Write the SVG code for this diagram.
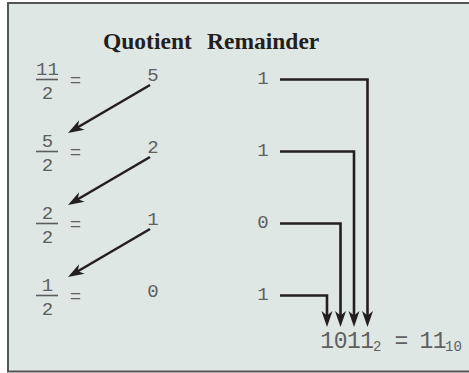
<svg xmlns="http://www.w3.org/2000/svg" width="469" height="373" viewBox="0 0 469 373">
<style>
.t{font-family:"Liberation Serif","Times New Roman",serif;font-weight:bold;font-size:23.5px;fill:#231f20}
.m{font-family:"Liberation Mono","Courier New",monospace;font-size:19px;fill:#606060}
.c{text-anchor:middle}
.r{font-family:"Liberation Mono","Courier New",monospace;font-size:23px;letter-spacing:-0.45px;fill:#606060}
.s{font-family:"Liberation Mono","Courier New",monospace;font-size:14px;fill:#606060}
.fl{stroke:#5c5c5c;stroke-width:1.6;fill:none}
.cn{stroke:#231f20;stroke-width:2.6;fill:none;marker-end:url(#ah)}
</style>
<defs>
<marker id="ah" markerUnits="userSpaceOnUse" markerWidth="20" markerHeight="12" viewBox="-1 -6 20 12" refX="11" refY="0" orient="auto" overflow="visible">
<path d="M0,-5.5 L16,0 L0,5.5 L4.5,0 z" fill="#231f20"/>
</marker>
</defs>
<rect x="8" y="3" width="470" height="368.5" fill="#dfe7e5" stroke="#555" stroke-width="2"/>
<g id="title">
<text class="t" x="103" y="48.5">Quotient</text>
<text class="t" x="207" y="48.5">Remainder</text>
</g>
<g id="row1">
<text class="m c" x="47.5" y="75">11</text>
<line class="fl" x1="36" y1="79.5" x2="58" y2="79.5"/>
<text class="m c" x="47.5" y="98.5">2</text>
<text class="m c" x="75.5" y="85.5">=</text>
<text class="m c" x="153" y="80.5">5</text>
<text class="m c" x="263" y="84">1</text>
</g>
<g id="row2">
<text class="m c" x="47.5" y="147">5</text>
<line class="fl" x1="36" y1="151.5" x2="58" y2="151.5"/>
<text class="m c" x="47.5" y="170.5">2</text>
<text class="m c" x="75.5" y="157.5">=</text>
<text class="m c" x="153" y="152.5">2</text>
<text class="m c" x="263" y="156">1</text>
</g>
<g id="row3">
<text class="m c" x="47.5" y="219">2</text>
<line class="fl" x1="36" y1="223.5" x2="58" y2="223.5"/>
<text class="m c" x="47.5" y="242.5">2</text>
<text class="m c" x="75.5" y="229.5">=</text>
<text class="m c" x="153" y="224.5">1</text>
<text class="m c" x="263" y="228">0</text>
</g>
<g id="row4">
<text class="m c" x="47.5" y="291">1</text>
<line class="fl" x1="36" y1="295.5" x2="58" y2="295.5"/>
<text class="m c" x="47.5" y="314.5">2</text>
<text class="m c" x="75.5" y="301.5">=</text>
<text class="m c" x="153" y="296.5">0</text>
<text class="m c" x="263" y="300">1</text>
</g>
<g id="result">
<text class="r" x="320.3" y="348">1011</text>
<text class="s" x="373" y="350.5">2</text>
<text class="r" x="394.5" y="348">=</text>
<text class="r" x="419.5" y="348">11</text>
<text class="s" x="445" y="350.5">10</text>
</g>
<g id="connectors">
<line class="cn" x1="150" y1="85" x2="72.3" y2="130.5"/>
<line class="cn" x1="150" y1="157" x2="72.3" y2="202.5"/>
<line class="cn" x1="150" y1="229" x2="72.3" y2="274.5"/>
<path class="cn" d="M280,79.5 H367.5 V322"/>
<path class="cn" d="M280,151.5 H354 V322"/>
<path class="cn" d="M280,223.5 H340.5 V322"/>
<path class="cn" d="M280,295.5 H327 V322"/>
</g>
</svg>
